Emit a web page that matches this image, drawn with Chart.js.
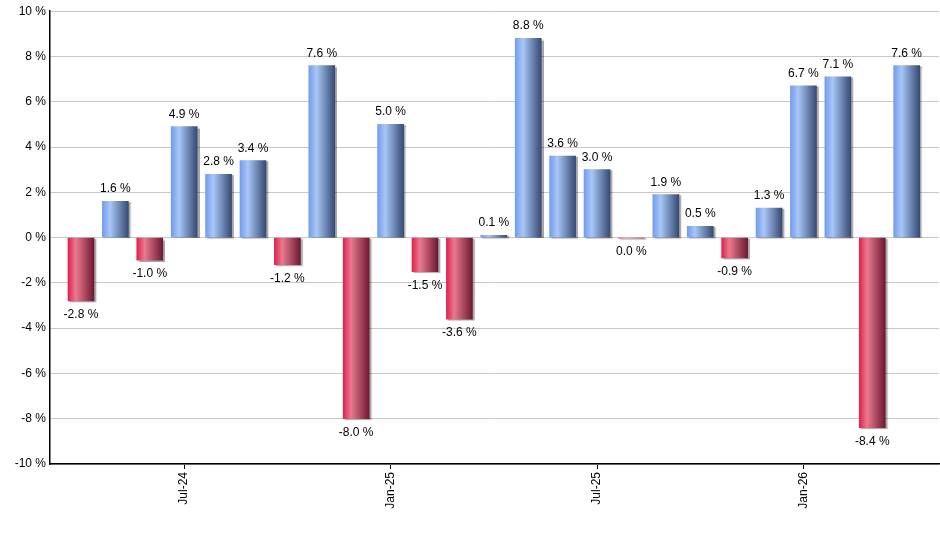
<!DOCTYPE html>
<html>
<head>
<meta charset="utf-8">
<script src="https://cdn.jsdelivr.net/npm/chart.js@4/dist/chart.umd.min.js"></script>
<style>
  html, body { margin: 0; padding: 0; background: #fff; }
  #wrap { width: 940px; height: 550px; }
</style>
</head>
<body>
<div id="wrap"><canvas id="returnsChart" width="940" height="550"></canvas></div>
<script>
  // Monthly returns, Apr-24 .. Apr-26
  const months = ['Apr-24', 'May-24', 'Jun-24', 'Jul-24', 'Aug-24', 'Sep-24', 'Oct-24', 'Nov-24', 'Dec-24',
    'Jan-25', 'Feb-25', 'Mar-25', 'Apr-25', 'May-25', 'Jun-25', 'Jul-25', 'Aug-25', 'Sep-25', 'Oct-25',
    'Nov-25', 'Dec-25', 'Jan-26', 'Feb-26', 'Mar-26', 'Apr-26'];
  const returns = [-2.8, 1.6, -1.0, 4.9, 2.8, 3.4, -1.2, 7.6, -8.0, 5.0, -1.5, -3.6, 0.1, 8.8, 3.6, 3.0,
    -0.03, 1.9, 0.5, -0.9, 1.3, 6.7, 7.1, -8.4, 7.6];
  const tickMonths = ['Jul-24', 'Jan-25', 'Jul-25', 'Jan-26'];
  const yTicks = [-10, -8, -6, -4, -2, 0, 2, 4, 6, 8, 10];

  const BAR_W = 26;

  function barGradient(c) {
    const chart = c.chart;
    const xs = chart.scales.x;
    const up = returns[c.dataIndex] >= 0;
    if (!xs || c.dataIndex === undefined) return up ? '#7aa2ea' : '#e0224c';
    const cx = xs.getPixelForValue(c.dataIndex);
    if (!isFinite(cx)) return up ? '#7aa2ea' : '#e0224c';
    const g = chart.ctx.createLinearGradient(cx - BAR_W / 2, 0, cx + BAR_W / 2, 0);
    if (up) {
      g.addColorStop(0, '#739ced');
      g.addColorStop(0.3, '#a8c6f6');
      g.addColorStop(1, '#364a74');
    } else {
      g.addColorStop(0, '#e0224c');
      g.addColorStop(0.3, '#e87990');
      g.addColorStop(1, '#6e1a32');
    }
    return g;
  }

  const points = returns.map((v, i) => ({ x: i, y: v }));

  // bar shadow + value labels
  const barExtras = {
    id: 'barExtras',
    beforeDatasetsDraw(chart) {
      const ctx = chart.ctx;
      ctx.save();
      ctx.shadowColor = 'rgba(0,0,0,0.35)';
      ctx.shadowOffsetX = 2;
      ctx.shadowOffsetY = 1;
      ctx.shadowBlur = 1;
    },
    afterDatasetsDraw(chart) {
      const ctx = chart.ctx;
      ctx.restore();
      ctx.save();
      ctx.font = '12px "Liberation Sans", Arial, sans-serif';
      ctx.fillStyle = '#000';
      ctx.textAlign = 'center';
      ctx.textBaseline = 'alphabetic';
      chart.getDatasetMeta(0).data.forEach((el, i) => {
        const v = returns[i];
        const txt = (Math.abs(v) < 0.05 ? '0.0' : v.toFixed(1)) + ' %';
        if (v > 0) {
          ctx.fillText(txt, el.x, el.y - 9);
        } else {
          ctx.fillText(txt, el.x, el.y + 17);
        }
      });
      ctx.restore();
    }
  };

  window.onload = function () {
    new Chart(document.getElementById('returnsChart'), {
      type: 'bar',
      data: {
        datasets: [{
          data: points,
          backgroundColor: barGradient,
          barThickness: BAR_W,
          borderWidth: 0
        }]
      },
      options: {
        responsive: false,
        animation: false,
        layout: { padding: { top: 9, right: 1, left: 0, bottom: 0 } },
        plugins: {
          legend: { display: false },
          tooltip: { enabled: false }
        },
        scales: {
          x: {
            type: 'linear',
            offset: false,
            min: -0.9,
            max: 24.94,
            afterBuildTicks(scale) {
              scale.ticks = tickMonths.map(m => ({ value: months.indexOf(m) }));
            },
            afterFit(scale) { scale.height = 86; },
            ticks: {
              autoSkip: false,
              minRotation: 90,
              maxRotation: 90,
              padding: 3,
              color: '#000',
              font: { family: '"Liberation Sans", Arial, sans-serif', size: 12 },
              callback: (v) => months[v]
            },
            grid: {
              offset: false,
              drawOnChartArea: false,
              tickLength: 5,
              color: '#000'
            },
            border: { color: '#000', width: 1.5 }
          },
          y: {
            min: -10,
            max: 10,
            afterBuildTicks(scale) {
              scale.ticks = yTicks.map(v => ({ value: v }));
            },
            afterFit(scale) { scale.width = 50; },
            ticks: {
              padding: 4,
              color: '#000',
              font: { family: '"Liberation Sans", Arial, sans-serif', size: 12 },
              callback: (v) => v + ' %'
            },
            grid: {
              color: '#c8c8c8',
              tickLength: 0
            },
            border: { color: '#000', width: 1.5 }
          }
        }
      },
      plugins: [barExtras]
    });
  };
</script>
</body>
</html>
